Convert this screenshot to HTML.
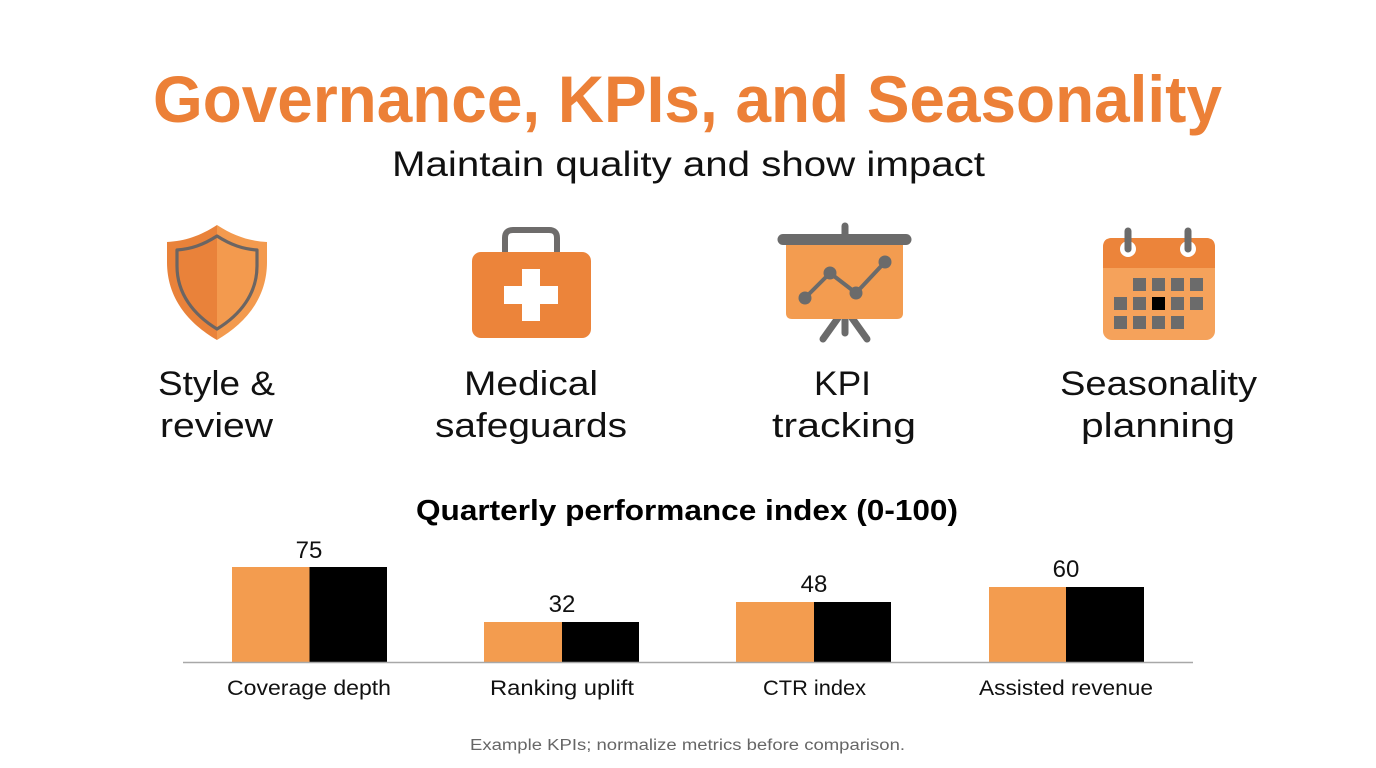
<!DOCTYPE html>
<html>
<head>
<meta charset="utf-8">
<style>
  html, body { margin:0; padding:0; background:#ffffff; }
  body { width:1376px; height:768px; overflow:hidden; }
  svg { display:block; }
  text { font-family: "Liberation Sans", "DejaVu Sans", sans-serif; }
</style>
</head>
<body>
<svg width="1376" height="768" viewBox="0 0 1376 768" xmlns="http://www.w3.org/2000/svg">
  <rect x="0" y="0" width="1376" height="768" fill="#ffffff"/>

  <!-- Title -->
  <text x="153" y="122" font-size="66" font-weight="bold" fill="#EC8037" textLength="1069" lengthAdjust="spacingAndGlyphs">Governance, KPIs, and Seasonality</text>
  <!-- Subtitle -->
  <text x="392" y="176" font-size="35" fill="#111111" textLength="593" lengthAdjust="spacingAndGlyphs">Maintain quality and show impact</text>

  <!-- Shield icon -->
  <g>
    <path d="M217 225 C 200 236, 185 241, 167 242 L 167 262 C 167 298, 188 323, 217 340 Z" fill="#E9823A"/>
    <path d="M217 225 C 234 236, 249 241, 267 242 L 267 262 C 267 298, 246 323, 217 340 Z" fill="#F39A4E"/>
    <path d="M217 236 C 203 245, 191 249, 177 250 L 177 266 C 177 294, 194 315, 217 329 C 240 315, 257 294, 257 266 L 257 250 C 243 249, 231 245, 217 236 Z" fill="none" stroke="#6B6563" stroke-width="3.2" stroke-linejoin="round"/>
  </g>

  <!-- Medical kit icon -->
  <g>
    <path d="M505 252 L 505 238 Q 505 230, 513 230 L 549 230 Q 557 230, 557 238 L 557 252" fill="none" stroke="#6E6C6B" stroke-width="6"/>
    <rect x="472" y="252" width="119" height="86" rx="9" ry="9" fill="#EC843A"/>
    <rect x="522" y="269" width="18" height="52" fill="#ffffff"/>
    <rect x="504" y="286" width="54" height="18" fill="#ffffff"/>
  </g>

  <!-- KPI easel icon -->
  <g>
    <line x1="845" y1="226" x2="845" y2="240" stroke="#6B6B6B" stroke-width="7" stroke-linecap="round"/>
    <line x1="838" y1="318" x2="823" y2="339" stroke="#6B6B6B" stroke-width="7" stroke-linecap="round"/>
    <line x1="852" y1="318" x2="867" y2="339" stroke="#6B6B6B" stroke-width="7" stroke-linecap="round"/>
    <line x1="845" y1="318" x2="845" y2="333" stroke="#6B6B6B" stroke-width="7" stroke-linecap="round"/>
    <path d="M786 244 L 903 244 L 903 313 Q 903 319, 897 319 L 792 319 Q 786 319, 786 313 Z" fill="#F39C50"/>
    <line x1="783" y1="239.5" x2="906" y2="239.5" stroke="#6B6B6B" stroke-width="11" stroke-linecap="round"/>
    <polyline points="805,298 830,273 856,293 885,262" fill="none" stroke="#6B6B6B" stroke-width="4" stroke-linejoin="round"/>
    <circle cx="805" cy="298" r="6.5" fill="#6B6B6B"/>
    <circle cx="830" cy="273" r="6.5" fill="#6B6B6B"/>
    <circle cx="856" cy="293" r="6.5" fill="#6B6B6B"/>
    <circle cx="885" cy="262" r="6.5" fill="#6B6B6B"/>
  </g>

  <!-- Calendar icon -->
  <g>
    <rect x="1103" y="238" width="112" height="102" rx="9" ry="9" fill="#F5A25B"/>
    <path d="M1103 268 L 1103 247 Q 1103 238, 1112 238 L 1206 238 Q 1215 238, 1215 247 L 1215 268 Z" fill="#EC843A"/>
    <circle cx="1128" cy="249" r="8" fill="#ffffff"/>
    <circle cx="1188" cy="249" r="8" fill="#ffffff"/>
    <line x1="1128" y1="231" x2="1128" y2="249" stroke="#6B6B6B" stroke-width="7" stroke-linecap="round"/>
    <line x1="1188" y1="231" x2="1188" y2="249" stroke="#6B6B6B" stroke-width="7" stroke-linecap="round"/>
    <g fill="#6B6B6B">
      <rect x="1133" y="278" width="13" height="13"/>
      <rect x="1152" y="278" width="13" height="13"/>
      <rect x="1171" y="278" width="13" height="13"/>
      <rect x="1190" y="278" width="13" height="13"/>
      <rect x="1114" y="297" width="13" height="13"/>
      <rect x="1133" y="297" width="13" height="13"/>
      <rect x="1171" y="297" width="13" height="13"/>
      <rect x="1190" y="297" width="13" height="13"/>
      <rect x="1114" y="316" width="13" height="13"/>
      <rect x="1133" y="316" width="13" height="13"/>
      <rect x="1152" y="316" width="13" height="13"/>
      <rect x="1171" y="316" width="13" height="13"/>
    </g>
    <rect x="1152" y="297" width="13" height="13" fill="#000000"/>
  </g>

  <!-- Icon labels -->
  <g font-size="34" fill="#111111">
    <text x="158" y="395" textLength="117" lengthAdjust="spacingAndGlyphs">Style &amp;</text>
    <text x="160" y="437" textLength="113" lengthAdjust="spacingAndGlyphs">review</text>
    <text x="464" y="395" textLength="134" lengthAdjust="spacingAndGlyphs">Medical</text>
    <text x="435" y="437" textLength="192" lengthAdjust="spacingAndGlyphs">safeguards</text>
    <text x="814" y="395" textLength="57" lengthAdjust="spacingAndGlyphs">KPI</text>
    <text x="772" y="437" textLength="144" lengthAdjust="spacingAndGlyphs">tracking</text>
    <text x="1060" y="395" textLength="197" lengthAdjust="spacingAndGlyphs">Seasonality</text>
    <text x="1081" y="437" textLength="154" lengthAdjust="spacingAndGlyphs">planning</text>
  </g>

  <!-- Chart title -->
  <text x="416" y="520" font-size="29" font-weight="bold" fill="#000000" textLength="542" lengthAdjust="spacingAndGlyphs">Quarterly performance index (0-100)</text>

  <!-- Bars -->
  <g>
    <rect x="232" y="567" width="77.5" height="95" fill="#F39C4F"/>
    <rect x="309.5" y="567" width="77.5" height="95" fill="#000000"/>
    <rect x="484" y="622" width="78" height="40" fill="#F39C4F"/>
    <rect x="562" y="622" width="77" height="40" fill="#000000"/>
    <rect x="736" y="602" width="78" height="60" fill="#F39C4F"/>
    <rect x="814" y="602" width="77" height="60" fill="#000000"/>
    <rect x="989" y="587" width="77" height="75" fill="#F39C4F"/>
    <rect x="1066" y="587" width="78" height="75" fill="#000000"/>
  </g>
  <line x1="183" y1="662.5" x2="1193" y2="662.5" stroke="#A8A8A8" stroke-width="1.5"/>

  <!-- Value labels -->
  <g font-size="24" fill="#111111" text-anchor="middle">
    <text x="309" y="558">75</text>
    <text x="562" y="612">32</text>
    <text x="814" y="592">48</text>
    <text x="1066" y="577">60</text>
  </g>

  <!-- Category labels -->
  <g font-size="21" fill="#111111">
    <text x="227" y="695" textLength="164" lengthAdjust="spacingAndGlyphs">Coverage depth</text>
    <text x="490" y="695" textLength="144" lengthAdjust="spacingAndGlyphs">Ranking uplift</text>
    <text x="763" y="695" textLength="103" lengthAdjust="spacingAndGlyphs">CTR index</text>
    <text x="979" y="695" textLength="174" lengthAdjust="spacingAndGlyphs">Assisted revenue</text>
  </g>

  <!-- Footnote -->
  <text x="470" y="750" font-size="15.5" fill="#666666" textLength="435" lengthAdjust="spacingAndGlyphs">Example KPIs; normalize metrics before comparison.</text>
</svg>
</body>
</html>
